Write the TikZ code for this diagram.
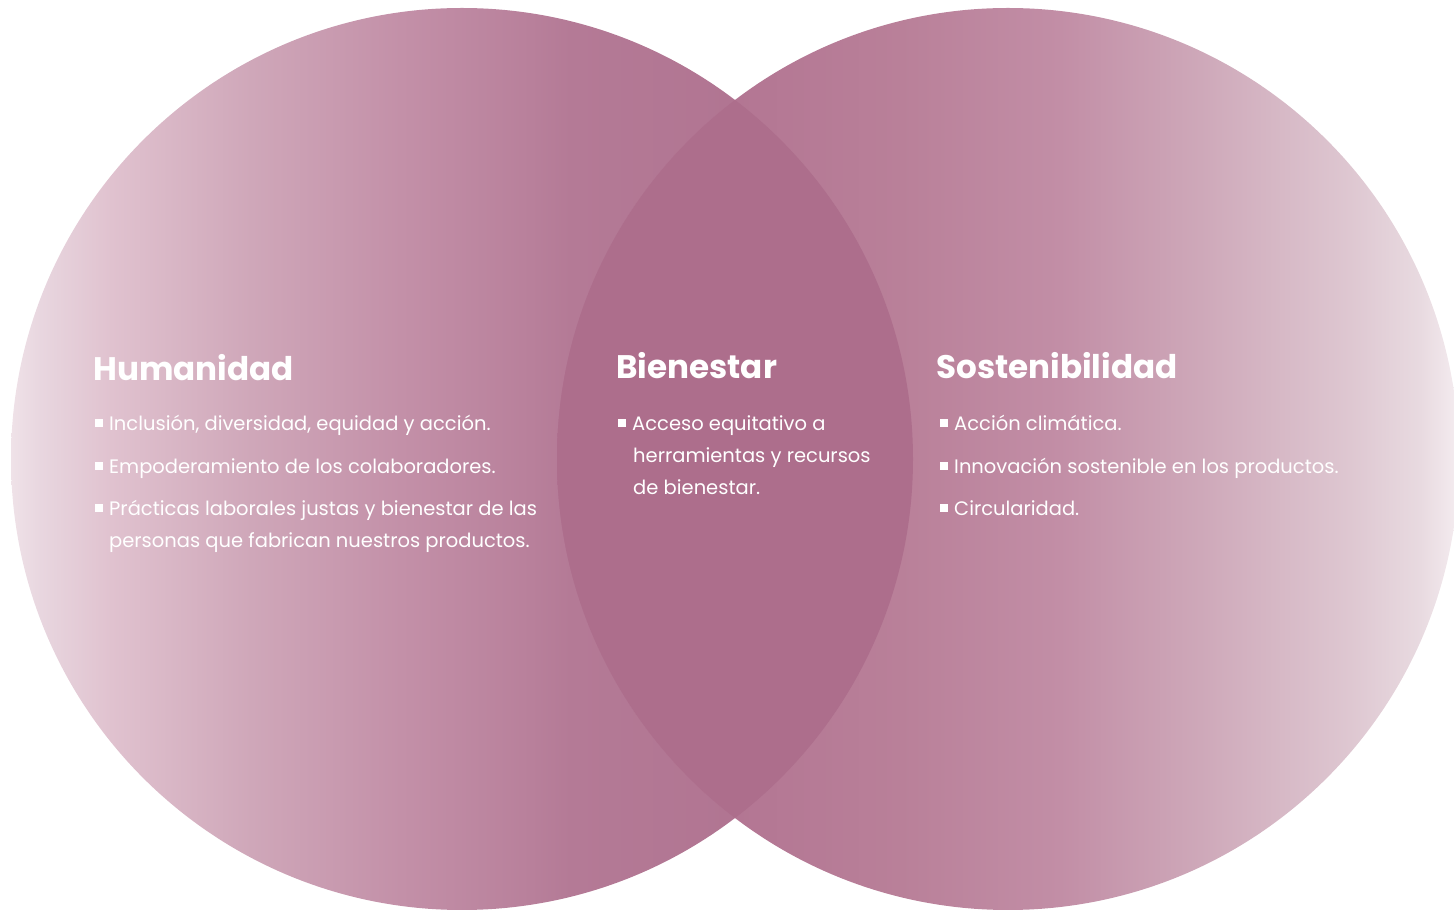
\documentclass[tikz,border=0pt]{standalone}
\usepackage{fontspec}
\setmainfont{Poppins}
\usetikzlibrary{positioning}

% Colours of the left circle, light to dark.
\definecolor{hum0}{HTML}{EFE2E8}
\definecolor{hum1}{HTML}{E8D6DF}
\definecolor{hum2}{HTML}{E0C2CF}
\definecolor{hum3}{HTML}{CFA7B9}
\definecolor{hum4}{HTML}{C390A8}
\definecolor{hum5}{HTML}{B8809B}
\definecolor{hum6}{HTML}{B47A96}
\definecolor{hum7}{HTML}{B17592}
\definecolor{hum8}{HTML}{AE7090}
% Colours of the right circle, dark to light.
\definecolor{sos0}{HTML}{B07090}
\definecolor{sos1}{HTML}{B37693}
\definecolor{sos2}{HTML}{B98099}
\definecolor{sos3}{HTML}{C28EA6}
\definecolor{sos4}{HTML}{CEA8B9}
\definecolor{sos5}{HTML}{DEC7D1}
\definecolor{sos6}{HTML}{E8DAE0}
\definecolor{sos7}{HTML}{F3EAEE}
\definecolor{sos8}{HTML}{F5EEF1}
\definecolor{lens}{HTML}{AD6E8C}

\pgfdeclarehorizontalshading{humshade}{100bp}{color(0bp)=(hum0); color(25bp)=(hum0);
  color(26.66bp)=(hum1); color(30.54bp)=(hum2); color(38.3bp)=(hum3); color(46.62bp)=(hum4);
  color(53.82bp)=(hum5); color(56.04bp)=(hum6); color(65.13bp)=(hum7); color(75bp)=(hum8); color(100bp)=(hum8)}
\pgfdeclarehorizontalshading{sosshade}{100bp}{color(0bp)=(sos0); color(25bp)=(sos0);
  color(34.87bp)=(sos1); color(44.01bp)=(sos2); color(52.88bp)=(sos3); color(60.64bp)=(sos4);
  color(68.96bp)=(sos5); color(72.84bp)=(sos6); color(74.72bp)=(sos7); color(75bp)=(sos8); color(100bp)=(sos8)}

\newcommand{\sqbullet}{\rule[4pt]{8pt}{8pt}\hspace{6pt}}

\tikzset{
  heading/.style={anchor=base west, text=white, inner sep=0pt, font=\fontsize{32.6}{38}\selectfont\bfseries},
  bullettext/.style={anchor=base west, text=white, inner sep=0pt, font=\fontsize{19.5}{23}\selectfont},
}

\begin{document}
\begin{tikzpicture}[x=1pt, y=1pt]
  \useasboundingbox (0, 0) rectangle (1454, 913);
  \clip (0, 0) rectangle (1454, 913);

  % Left circle.
  \node[circle, minimum size=902pt, inner sep=0pt, shading=humshade] (humcircle) at (462, 454) {};
  % Right circle.
  \node[circle, minimum size=902pt, inner sep=0pt, shading=sosshade] (soscircle) at (1008, 454) {};

  % Overlap of both circles.
  \begin{scope}
    \clip (humcircle.center) circle (451);
    \fill[lens] (soscircle.center) circle (451);
  \end{scope}

  % Humanidad.
  \node[heading] (humtitle) at (93, 532) {Humanidad};
  \node[bullettext] (hum1) at (95, 482) {\sqbullet Inclusión, diversidad, equidad y acción.};
  \node[bullettext] (hum2) at (95, 439) {\sqbullet Empoderamiento de los colaboradores.};
  \node[bullettext] (hum3) at (95, 397) {\sqbullet Prácticas laborales justas y bienestar de las};
  \node[bullettext] (hum3b) at (109, 365) {personas que fabrican nuestros productos.};

  % Bienestar.
  \node[heading] (bientitle) at (616, 534) {Bienestar};
  \node[bullettext] (bien1) at (618, 482) {\sqbullet Acceso equitativo a};
  \node[bullettext] (bien1b) at (633, 450) {herramientas y recursos};
  \node[bullettext] (bien1c) at (633, 418) {de bienestar.};

  % Sostenibilidad.
  \node[heading] (sostitle) at (936, 534) {Sostenibilidad};
  \node[bullettext] (sos1) at (940, 482) {\sqbullet Acción climática.};
  \node[bullettext] (sos2) at (940, 439) {\sqbullet Innovación sostenible en los productos.};
  \node[bullettext] (sos3) at (940, 397) {\sqbullet Circularidad.};

\end{tikzpicture}
\end{document}
